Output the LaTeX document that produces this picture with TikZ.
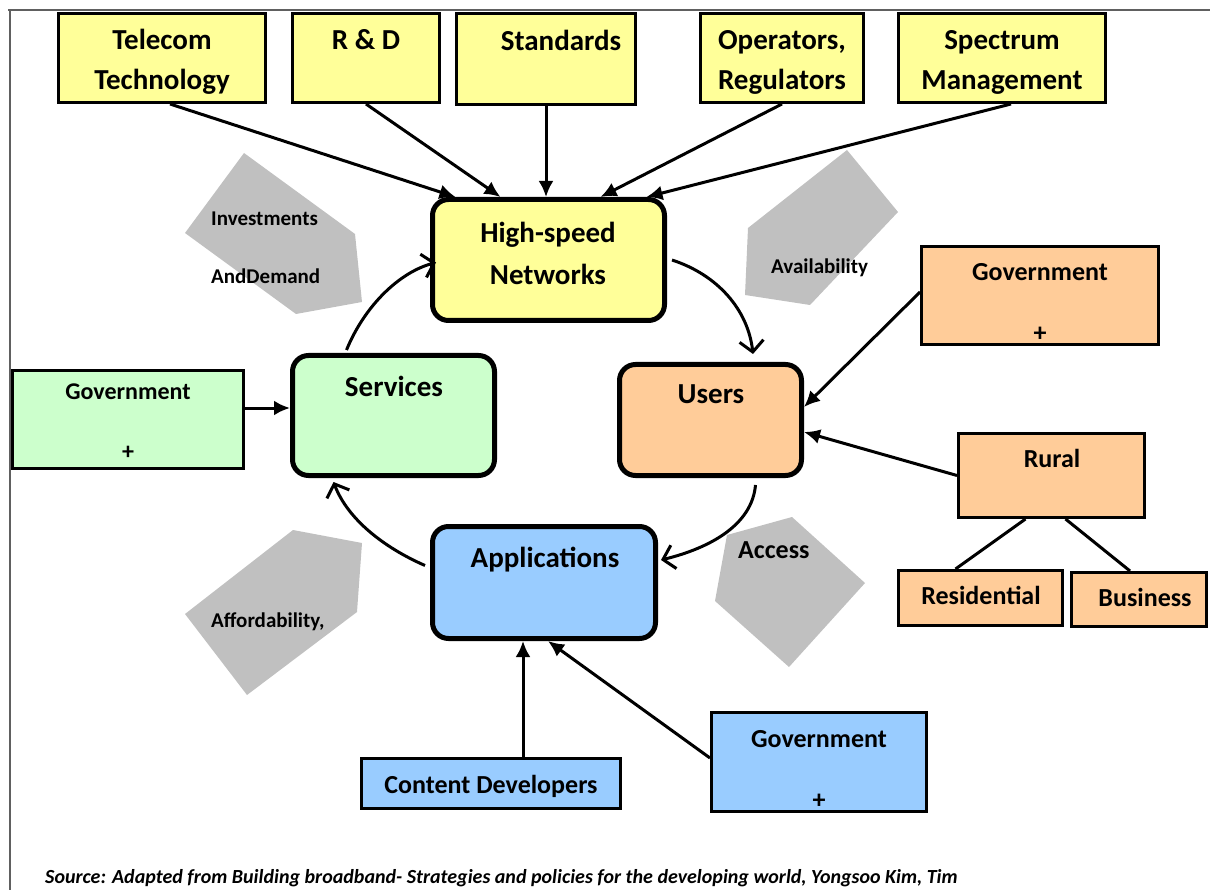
\documentclass[tikz,border=0pt]{standalone}
\usepackage{fontspec}
\setmainfont{Carlito}
\usetikzlibrary{arrows.meta}
\definecolor{amarillo}{HTML}{FFFF99}
\definecolor{verde}{HTML}{CCFFCC}
\definecolor{naranja}{HTML}{FFCC99}
\definecolor{azul}{HTML}{99CCFF}
\definecolor{gris}{HTML}{C0C0C0}
\definecolor{marcogris}{HTML}{606060}
\begin{document}
\begin{tikzpicture}[x=1pt, y=-1pt,
    caja/.style={draw, line width=3pt, inner sep=0pt},
    capa/.style={draw, line width=5pt, rounded corners=16pt, inner sep=0pt},
    texto/.style={font=\fontsize{29}{40}\selectfont\bfseries, align=center, inner sep=0pt},
    textomedio/.style={font=\fontsize{26}{61}\selectfont\bfseries, align=center, inner sep=0pt},
    textogob/.style={font=\fontsize{24}{60}\selectfont\bfseries, align=center, inner sep=0pt},
    nota/.style={font=\fontsize{21}{24}\selectfont\bfseries, anchor=west, inner sep=0pt},
    flecha/.style={-{Latex[length=16pt,width=15pt]}, line width=3pt},
    curva/.style={-{Straight Barb[length=11pt,width=24pt,line width=3pt]}, line width=3pt},
    linea/.style={line width=3pt},
    marco/.style={draw=marcogris, line width=2pt}
  ]
    \useasboundingbox (0,0) rectangle (1210,890);
    \draw[marco] (8,10) -- (1210,10);
    \draw[marco] (10,10) -- (10,890);

    % pentagonos grises
    \fill[gris] (244,153) -- (355,234) -- (362,302) -- (296,314) -- (185,233) -- cycle;
    \fill[gris] (847,150) -- (898,212) -- (810,305) -- (745,295) -- (748,228) -- cycle;
    \fill[gris] (293,530) -- (362,543) -- (357,612) -- (247,695) -- (185,614) -- cycle;
    \fill[gris] (792,517) -- (865,583) -- (789,667) -- (715,601) -- (727,535) -- cycle;
    \node[nota] (inversiones) at (211,219) {Investments};
    \node[nota] (demanda) at (211,276) {AndDemand};
    \node[nota] (disponibilidad) at (771,268) {Availability};
    \node[nota] (asequibilidad) at (211,622) {Affordability,};
    \node[nota, font=\fontsize{26}{30}\selectfont\bfseries] (acceso) at (738,550) {Access};

    % cajas de arriba
    \node[caja, fill=amarillo, minimum width=207pt, minimum height=89pt] (telecom) at (162,58) {};
    \node[caja, fill=amarillo, minimum width=147pt, minimum height=89pt] (iyd) at (366,58) {};
    \node[caja, fill=amarillo, minimum width=179pt, minimum height=91pt] (estandares) at (546,59) {};
    \node[caja, fill=amarillo, minimum width=163pt, minimum height=89pt] (operadores) at (782,58) {};
    \node[caja, fill=amarillo, minimum width=207pt, minimum height=89pt] (espectro) at (1002,58) {};
    \node[texto] (t-telecom) at (162,62) {Telecom\\Technology};
    \node[texto] (t-iyd) at (366,40) {R \& D};
    \node[texto] (t-estandares) at (561,40) {Standards};
    \node[texto] (t-operadores) at (782,62) {Operators,\\Regulators};
    \node[texto] (t-espectro) at (1002,62) {Spectrum\\Management};

    % capas centrales
    \node[capa, fill=amarillo, minimum width=232pt, minimum height=121pt] (redes) at (548.5,260) {};
    \node[capa, fill=verde, minimum width=202pt, minimum height=120pt] (servicios) at (393.5,415.5) {};
    \node[capa, fill=naranja, minimum width=182pt, minimum height=111pt] (usuarios) at (710.5,420) {};
    \node[capa, fill=azul, minimum width=223pt, minimum height=112pt] (aplicaciones) at (544,582.5) {};
    \node[texto, font=\fontsize{29}{42}\selectfont\bfseries] (t-redes) at (548,253) {High-speed\\Networks};
    \node[texto] (t-servicios) at (394,386) {Services};
    \node[texto] (t-usuarios) at (711,394) {Users};
    \node[texto] (t-aplicaciones) at (545,560) {Applications};

    % cajas laterales
    \node[caja, fill=verde, minimum width=231pt, minimum height=98pt] (gobverde) at (128,419.5) {};
    \node[caja, fill=naranja, minimum width=237pt, minimum height=98pt] (gobnaranja) at (1040,295.5) {};
    \node[caja, fill=naranja, minimum width=186pt, minimum height=84pt] (rural) at (1051.5,475.5) {};
    \node[caja, fill=naranja, minimum width=164pt, minimum height=55pt] (residencial) at (980.5,598) {};
    \node[caja, fill=naranja, minimum width=135pt, minimum height=54pt] (negocios) at (1139,599.5) {};
    \node[caja, fill=azul, minimum width=259pt, minimum height=50pt] (contenidos) at (491,783.5) {};
    \node[caja, fill=azul, minimum width=215pt, minimum height=99pt] (gobazul) at (819,762) {};
    \node[textogob] (t-gobverde) at (128,422) {Government\\+};
    \node[textomedio] (t-gobnaranja) at (1040,302) {Government\\+};
    \node[textomedio] (t-rural) at (1052,458) {Rural};
    \node[textomedio] (t-residencial) at (981,595) {Residential};
    \node[textomedio] (t-negocios) at (1145,597) {Business};
    \node[textomedio] (t-contenidos) at (491,786) {Content Developers};
    \node[textomedio] (t-gobazul) at (819,769) {Government\\+};

    % flechas rectas
    \draw[flecha] ([xshift=8pt]telecom.south) -- ([xshift=-93pt]redes.north);
    \draw[flecha] (iyd.south) -- ([xshift=-48pt]redes.north);
    \draw[flecha] (estandares.south) -- (estandares.south |- redes.north);
    \draw[flecha] (operadores.south) -- ([xshift=52pt]redes.north);
    \draw[flecha] ([xshift=9pt]espectro.south) -- ([xshift=98pt]redes.north);
    \draw[flecha] ([yshift=11.5pt]gobverde.east) -- ([yshift=7.5pt]servicios.west);
    \draw[flecha] ([yshift=3.5pt]gobnaranja.west) -- ([yshift=13pt]usuarios.east);
    \draw[flecha] (rural.west) -- ([yshift=-12pt]usuarios.east);
    \draw[linea] ([xshift=-26pt]rural.south) -- ([xshift=-25pt]residencial.north);
    \draw[linea] ([xshift=14pt]rural.south) -- ([xshift=-9pt]negocios.north);
    \draw[flecha] ([xshift=32pt]contenidos.north) -- ([xshift=-21pt]aplicaciones.south);
    \draw[flecha] ([yshift=4pt]gobazul.west) -- ([xshift=4pt]aplicaciones.south);

    % ciclo
    \draw[curva] ([xshift=-47pt,yshift=3pt]servicios.north) .. controls (365,305) and (400,272) .. ([xshift=6pt,yshift=-2.5pt]redes.west);
    \draw[curva] ([xshift=5pt]redes.east) .. controls (718,275) and (748,310) .. ([xshift=42.5pt,yshift=8pt]usuarios.north);
    \draw[curva] ([xshift=45pt,yshift=-7pt]usuarios.south) .. controls (752,525) and (710,548) .. ([xshift=3pt,yshift=22.5pt]aplicaciones.east);
    \draw[curva] ([xshift=-5pt,yshift=17pt]aplicaciones.west) .. controls (385,548) and (348,520) .. ([xshift=-60pt,yshift=-4pt]servicios.south);

    \node[font=\fontsize{20}{24}\selectfont\bfseries\itshape, anchor=west, inner sep=0pt] (fuente) at (45,878)
      {Source: Adapted from Building broadband- Strategies and policies for the developing world, Yongsoo Kim, Tim};
  \end{tikzpicture}
\end{document}
